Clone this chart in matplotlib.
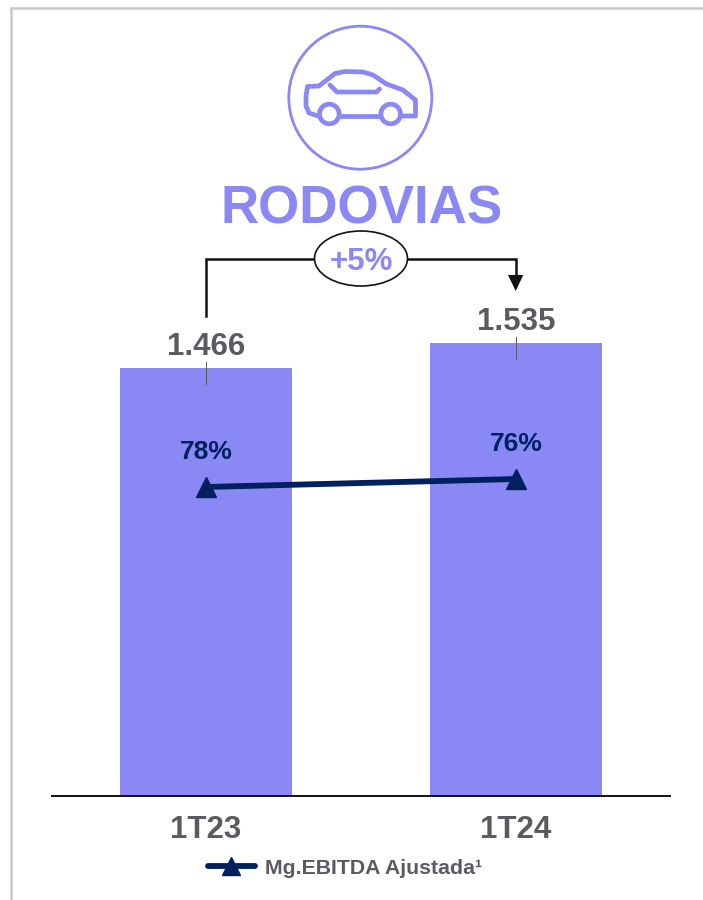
import matplotlib
matplotlib.use("Agg")
import matplotlib.pyplot as plt
from matplotlib.patches import Circle, Ellipse, Polygon

plt.rcParams['font.family'] = ['Liberation Sans', 'DejaVu Sans']

categories = ['1T23', '1T24']
revenue = [1466, 1535]
revenue_labels = ['1.466', '1.535']
margin = [78, 76]
margin_labels = ['78%', '76%']
growth_label = '+5%'
title = 'RODOVIAS'
legend_label = 'Mg.EBITDA Ajustada¹'

PURPLE = '#8a88f4'
NAVY = '#00205f'
GREY = '#595b60'

W, H = 703, 900
fig = plt.figure(figsize=(W / 100, H / 100), dpi=100, facecolor='white')

# main axes: spans x 51..671 px and y 0..796 px
ax = fig.add_axes([51 / W, (H - 796) / H, 620 / W, 796 / H])
ax.set_xlim(-0.5, 1.5)
ax.set_ylim(283, 2482)
x = range(len(categories))
ax.bar(x, revenue, width=0.555, color=PURPLE, zorder=2)
for s in ('top', 'left', 'right'):
    ax.spines[s].set_visible(False)
ax.spines['bottom'].set_linewidth(1.4)
ax.spines['bottom'].set_color('#111111')
ax.spines['bottom'].set_zorder(5)
ax.spines['bottom'].set_capstyle('butt')
ax.set_yticks([])
ax.set_xticks(list(x), categories, fontsize=22.5, fontweight='bold', color=GREY)
ax.tick_params(axis='x', length=0, pad=14)
ax.patch.set_alpha(0)

# margin line on an inverted secondary scale, as drawn in the reference
ax2 = ax.twinx()
ax2.set_ylim(155.25, -43.75)
ax2.set_yticks([])
for s in ax2.spines.values():
    s.set_visible(False)
line, = ax2.plot(x, margin, color=NAVY, lw=4.2, marker='^', ms=15, mec=NAVY,
                 mfc=NAVY, solid_capstyle='round', zorder=4, label=legend_label)
for xi, m, lab in zip(x, margin, margin_labels):
    ax2.annotate(lab, (xi, m), xytext=(0, 35), textcoords='offset pixels',
                 ha='center', va='center', fontsize=19, fontweight='bold', color=NAVY)

# value labels and their short leader ticks
for xi, v, lab in zip(x, revenue, revenue_labels):
    ax.annotate(lab, (xi, v), xytext=(0, 21), textcoords='offset pixels',
                ha='center', va='center', fontsize=22.5, fontweight='bold',
                color=GREY, zorder=6)
    ax.plot([xi, xi], [v - 16 / 0.362, v + 6 / 0.362], color='#55575c', lw=0.7, zorder=6)

# overlay in pixel coordinates for decoration
ov = fig.add_axes([0, 0, 1, 1], zorder=10)
ov.set_xlim(0, W)
ov.set_ylim(H, 0)
ov.axis('off')
ov.patch.set_alpha(0)

ov.plot([11, 11], [7, H], color='#c9c9c9', lw=1.8, solid_capstyle='butt')
ov.plot([10, W], [8, 8], color='#c9c9c9', lw=1.8, solid_capstyle='butt')

# icon
ov.add_patch(Circle((360.3, 97.7), 71.5, fill=False, ec=PURPLE, lw=2))
body = [(318, 116), (309, 113), (306, 106), (306, 96), (307.5, 86.5), (319, 86), (328, 79), (335, 73.5),
        (345, 71.5), (363, 72), (373, 75), (386.5, 84), (403, 90), (415.5, 100), (415.5, 116), (402, 116)]
ov.plot(*zip(*body), color=PURPLE, lw=3.4, solid_joinstyle='round', solid_capstyle='round')
ov.plot([340, 380], [115.5, 115.5], color=PURPLE, lw=3.4)
ov.plot([330, 337, 376.5, 379.5], [85, 92, 92, 89], color=PURPLE, lw=3.4, solid_capstyle='round')
for cx in (329.3, 390.7):
    ov.add_patch(Circle((cx, 114), 9.8, fc='white', ec=PURPLE, lw=3.4, zorder=3))

ov.text(362, 209, title, ha='center', va='center', fontsize=38.2, fontweight='bold', color=PURPLE)

# growth bracket
ov.plot([205.5, 205.5, 315], [316, 259, 259], color='#111111', lw=1.8, solid_joinstyle='miter')
ov.plot([407, 515.7, 515.7], [259, 259, 276], color='#111111', lw=1.8, solid_joinstyle='miter')
ov.add_patch(Polygon([(508, 275), (523.3, 275), (515.7, 291)], fc='#111111', ec='none'))
ov.add_patch(Ellipse((361, 258.5), 93, 55, fc='white', ec='#111111', lw=1.2, zorder=3))
ov.text(361, 262, growth_label, ha='center', va='center', fontsize=22.5,
        fontweight='bold', color=PURPLE, zorder=4)

fig.legend(handles=[line], loc='center left', bbox_to_anchor=(208 / W, (H - 868) / H),
           frameon=False, handlelength=2.2, handletextpad=0.5, numpoints=1, markerscale=0.85,
           borderpad=0, borderaxespad=0, prop={'size': 15.3, 'weight': 'bold'},
           labelcolor=GREY)

fig.savefig('out.png', dpi=100, facecolor='white')
